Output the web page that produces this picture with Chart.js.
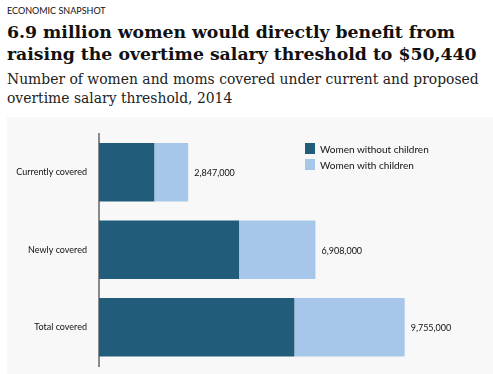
<!DOCTYPE html>
<html>
<head>
    <meta charset="utf-8">
    <title>Overtime salary threshold</title>
    <script src="https://cdn.jsdelivr.net/npm/chart.js"></script>
    <style>
        body {
            margin: 0;
            width: 493px;
            height: 374px;
            background: #fff;
            position: relative;
            overflow: hidden;
            font-family: Lato, "Open Sans", sans-serif;
        }
        .kicker {
            position: absolute;
            left: 7px;
            top: 5px;
            font-size: 9px;
            color: #111;
        }
        .title {
            position: absolute;
            left: 7px;
            top: 21px;
            font-family: "DejaVu Serif", serif;
            font-weight: bold;
            font-size: 17.3px;
            line-height: 22px;
            color: #111;
            white-space: nowrap;
        }
        .subtitle {
            position: absolute;
            left: 7px;
            top: 70px;
            font-family: "DejaVu Serif", serif;
            font-size: 13.9px;
            line-height: 19px;
            color: #222;
            white-space: nowrap;
        }
        .chart-box {
            position: absolute;
            left: 7px;
            top: 117px;
            width: 486px;
            height: 257px;
            background: #f8f8f8;
        }
        .legend {
            position: absolute;
            left: 305px;
            top: 143px;
            font-size: 10px;
            color: #111;
        }
        .legend div {
            height: 15.5px;
            line-height: 12px;
        }
        .legend span {
            display: inline-block;
            width: 10px;
            height: 11px;
            margin-right: 5px;
            vertical-align: top;
        }
    </style>
</head>
<body>
    <div class="kicker">ECONOMIC SNAPSHOT</div>
    <div class="title">6.9 million women would directly benefit from<br>raising the overtime salary threshold to $50,440</div>
    <div class="subtitle">Number of women and moms covered under current and proposed<br>overtime salary threshold, 2014</div>
    <div class="chart-box">
        <canvas id="chart" width="486" height="257"></canvas>
    </div>
    <div class="legend" id="legend"></div>

    <script>
        const categories = ['Currently covered', 'Newly covered', 'Total covered'];
        const withoutChildren = [1765000, 4470000, 6235000];
        const withChildren = [1082000, 2438000, 3520000];
        const seriesNames = ['Women without children', 'Women with children'];
        const seriesColors = ['#215d7b', '#a7c7ea'];
        const xMax = 12000000;

        // totals written at the end of each bar
        const totalLabels = {
            id: 'totalLabels',
            afterDatasetsDraw(chart) {
                const ctx = chart.ctx;
                const meta = chart.getDatasetMeta(1);
                ctx.save();
                ctx.font = '9px Lato, "Open Sans", sans-serif';
                ctx.fillStyle = '#111';
                ctx.textAlign = 'left';
                ctx.textBaseline = 'middle';
                meta.data.forEach((bar, i) => {
                    const total = withoutChildren[i] + withChildren[i];
                    ctx.fillText(total.toLocaleString('en-US'), bar.x + 6, bar.y + 1);
                });
                ctx.restore();
            }
        };

        const chart = new Chart(document.getElementById('chart'), {
            type: 'bar',
            data: {
                labels: categories,
                datasets: [
                    { label: seriesNames[0], data: withoutChildren, backgroundColor: seriesColors[0] },
                    { label: seriesNames[1], data: withChildren, backgroundColor: seriesColors[1] }
                ]
            },
            options: {
                indexAxis: 'y',
                responsive: false,
                animation: false,
                layout: { padding: { top: 16.5, bottom: 8, left: 0, right: 18 } },
                datasets: { bar: { categoryPercentage: 0.754, barPercentage: 1 } },
                scales: {
                    x: {
                        stacked: true,
                        min: 0,
                        max: xMax,
                        display: false
                    },
                    y: {
                        stacked: true,
                        grid: { display: false, drawTicks: false },
                        border: { display: true, color: '#8a8a8a', width: 2 },
                        ticks: {
                            padding: 12,
                            color: '#111',
                            font: { family: 'Lato, "Open Sans", sans-serif', size: 9 }
                        },
                        afterFit(scale) {
                            scale.width = 92;
                            scale.paddingTop = 0;
                            scale.paddingBottom = 0;
                        }
                    }
                },
                plugins: {
                    legend: { display: false },
                    tooltip: { enabled: false }
                }
            },
            plugins: [totalLabels]
        });

        document.getElementById('legend').innerHTML = chart.data.datasets.map(ds =>
            `<div><span style="background:${ds.backgroundColor}"></span>${ds.label}</div>`
        ).join('');
    </script>
</body>
</html>
